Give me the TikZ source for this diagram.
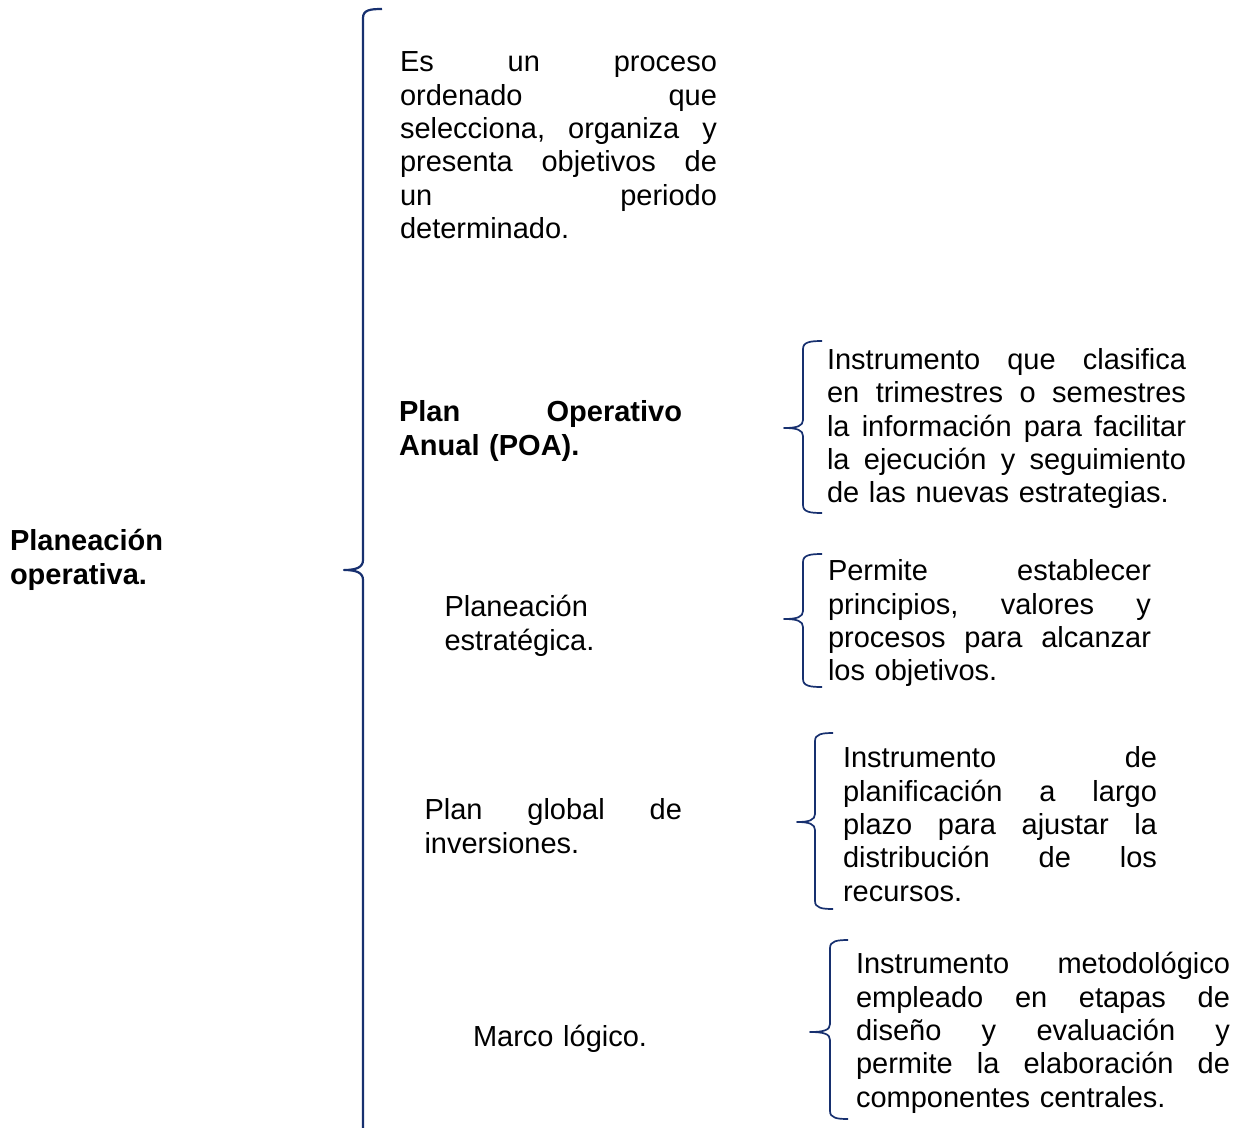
\documentclass[tikz,border=0pt]{standalone}
\usepackage{fontspec}
\setmainfont{Liberation Sans}
\definecolor{bracecol}{HTML}{17306F}
\newcommand{\jl}[2]{\leavevmode\hbox to #1pt{\frenchspacing\spaceskip=\fontdimen2\font plus 1fill\relax\strut #2}\\}
\newcommand{\brc}[6]{% x, top, tip y, bottom, tip x, hook x
  \draw[smallbrace] (#6,#2) .. controls ({#1+7},#2) and (#1,{#2+1}) .. (#1,{#2+8})
    -- (#1,{#3-8}) .. controls (#1,{#3-2}) and ({#1-6},#3) .. (#5,#3)
    .. controls ({#1-6},#3) and (#1,{#3+2}) .. (#1,{#3+8})
    -- (#1,{#4-8}) .. controls (#1,{#4-1}) and ({#1+7},#4) .. (#6,#4);}
\tikzset{
  txt/.style={anchor=north west, inner sep=0pt, outer sep=0pt, align=left,
    font=\fontsize{29}{33.4}\selectfont,
    execute at begin node=\setlength{\parindent}{0pt}},
  boldtxt/.style={txt, font=\fontsize{29}{33.4}\selectfont\bfseries},
  bigbrace/.style={draw=bracecol, line width=2.2pt, line join=round},
  smallbrace/.style={draw=bracecol, line width=1.7pt, line join=round},
}
\begin{document}
\begin{tikzpicture}[x=1pt, y=-1pt]
\useasboundingbox (0,0) rectangle (1238,1127);

% main brace
\draw[bigbrace] (382,9) .. controls (370,9) and (363,10) .. (363,18)
  -- (363,560) .. controls (363,567) and (357,570) .. (344,570)
  .. controls (357,570) and (363,573) .. (363,580) -- (363,1135);

% left title
\node[boldtxt, text width=200] (title) at (10,527.6) {\strut Planeación\\operativa.};

% definition
\node[txt, text width=317] (def) at (400,48.3) {%
  \jl{317}{Es un proceso}%
  \jl{317}{ordenado que}%
  \jl{317}{selecciona, organiza y}%
  \jl{317}{presenta objetivos de}%
  \jl{317}{un periodo}%
  determinado.};

% items
\node[boldtxt, text width=283] (poa) at (399,398.3) {%
  \jl{283}{Plan Operativo}%
  Anual (POA).};
\node[txt, text width=250] (pe) at (444.5,593.3) {\strut Planeación\\estratégica.};
\node[txt, text width=257.5] (pgi) at (424.5,796.6) {%
  \jl{257.5}{Plan global de}%
  inversiones.};
\node[txt, text width=250] (ml) at (473,1023.3) {\strut Marco lógico.};

% descriptions
\node[txt, text width=359] (d1) at (827,345.9) {%
  \jl{359}{Instrumento que clasifica}%
  \jl{359}{en trimestres o semestres}%
  \jl{359}{la información para facilitar}%
  \jl{359}{la ejecución y seguimiento}%
  de las nuevas estrategias.};
\node[txt, text width=323] (d2) at (828,557.3) {%
  \jl{323}{Permite establecer}%
  \jl{323}{principios, valores y}%
  \jl{323}{procesos para alcanzar}%
  los objetivos.};
\node[txt, text width=314] (d3) at (843,744.3) {%
  \jl{314}{Instrumento de}%
  \jl{314}{planificación a largo}%
  \jl{314}{plazo para ajustar la}%
  \jl{314}{distribución de los}%
  recursos.};
\node[txt, text width=374] (d4) at (856,950.3) {%
  \jl{374}{Instrumento metodológico}%
  \jl{374}{empleado en etapas de}%
  \jl{374}{diseño y evaluación y}%
  \jl{374}{permite la elaboración de}%
  componentes centrales.};

% small braces
\brc{803}{341}{428}{513}{784}{822}
\brc{803}{554}{619}{687}{784}{822}
\brc{815}{733}{822}{909}{797}{833}
\brc{830}{940}{1032}{1119}{810}{848}
\end{tikzpicture}
\end{document}
